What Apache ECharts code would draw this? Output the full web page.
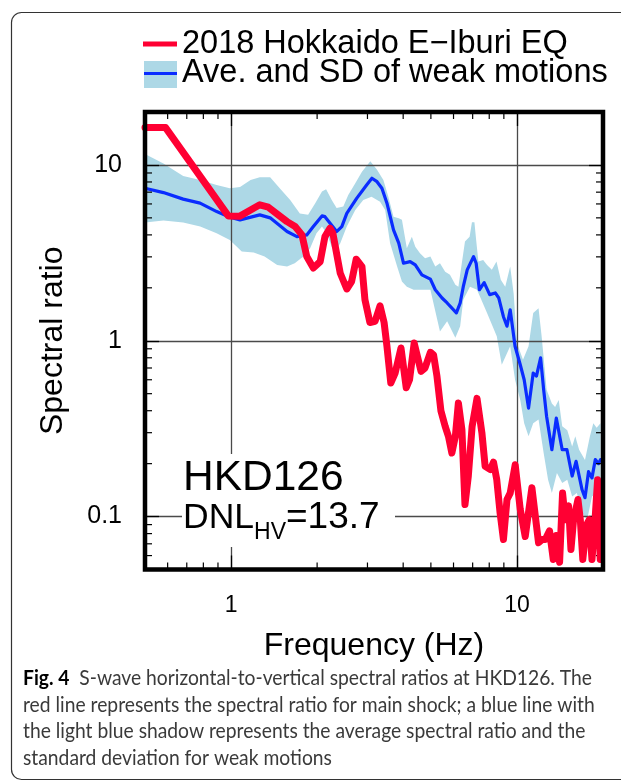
<!DOCTYPE html>
<html>
<head>
<meta charset="utf-8">
<title>HKD126 spectral ratios</title>
<script src="https://cdn.jsdelivr.net/npm/echarts@6/dist/echarts.min.js"></script>
<style>
  html, body { margin: 0; padding: 0; background: #fff; }
  #chart { width: 621px; height: 782px; }
</style>
</head>
<body>
<div id="chart"></div>
<script>
// ---- data -------------------------------------------------------------
// 2018 Hokkaido Eastern Iburi earthquake, main shock H/V spectral ratio
const mainFreq  = [0.5, 0.59, 0.978, 1.07, 1.26, 1.35, 1.57, 1.675, 1.77, 1.84, 1.94, 2.05, 2.13, 2.22, 2.27, 2.41, 2.54, 2.64, 2.74, 2.87, 2.94, 3.06, 3.19, 3.32, 3.43, 3.51, 3.62, 3.75, 3.93, 4.1, 4.21, 4.37, 4.49, 4.62, 4.77, 4.98, 5.11, 5.25, 5.42, 5.61, 5.76, 5.92, 6.09, 6.24, 6.42, 6.58, 6.76, 6.97, 7.25, 7.54, 7.74, 8.07, 8.28, 8.5, 8.73, 8.97, 9.23, 9.47, 9.86, 10.27, 10.69, 11.28, 11.9, 12.24, 12.56, 13.0, 13.4, 13.73, 14.1, 14.44, 14.76, 15.16, 15.45, 15.78, 16.35, 16.66, 17.0, 17.48, 17.91, 18.3, 18.7, 19.15, 19.56];
const mainRatio = [16.3, 16.3, 5.13, 5.1, 5.93, 5.75, 4.76, 4.46, 4.0, 3.01, 2.59, 2.82, 3.91, 4.37, 4.09, 2.42, 1.97, 2.17, 2.91, 2.64, 1.71, 1.27, 1.29, 1.58, 1.27, 0.93, 0.575, 0.655, 0.91, 0.54, 0.6, 0.97, 0.81, 0.67, 0.70, 0.86, 0.83, 0.63, 0.40, 0.326, 0.286, 0.23, 0.286, 0.443, 0.312, 0.117, 0.17, 0.326, 0.47, 0.30, 0.193, 0.185, 0.204, 0.162, 0.105, 0.074, 0.125, 0.136, 0.197, 0.11, 0.077, 0.146, 0.071, 0.074, 0.074, 0.083, 0.057, 0.078, 0.055, 0.136, 0.096, 0.115, 0.065, 0.096, 0.125, 0.096, 0.057, 0.089, 0.096, 0.057, 0.089, 0.162, 0.057];

// weak motions: average H/V spectral ratio
const weakFreq = [0.5, 0.58, 0.68, 0.779, 0.891, 0.978, 1.075, 1.26, 1.37, 1.57, 1.70, 1.84, 1.94, 2.08, 2.13, 2.34, 2.44, 2.54, 2.75, 2.98, 3.11, 3.24, 3.37, 3.51, 3.7, 3.86, 4.01, 4.23, 4.41, 4.65, 4.98, 5.18, 5.47, 5.7, 6.14, 6.33, 6.49, 6.7, 7.05, 7.2, 7.39, 7.68, 8.03, 8.4, 8.64, 8.97, 9.23, 9.47, 9.85, 10.27, 10.6, 10.98, 11.4, 11.7, 12.1, 12.4, 12.7, 13.25, 13.73, 14.4, 14.96, 15.6, 16.1, 16.9, 17.3, 17.8, 18.3, 18.8, 19.3, 19.6];
const weakAve  = [7.37, 6.96, 6.39, 6.06, 5.43, 5.08, 4.87, 5.2, 5.0, 4.18, 3.91, 4.0, 4.46, 5.13, 5.08, 4.18, 4.46, 5.3, 6.45, 7.69, 8.4, 8.03, 7.37, 6.06, 4.27, 3.59, 2.76, 2.82, 2.7, 2.37, 2.24, 1.95, 1.75, 1.64, 1.44, 1.64, 2.03, 2.53, 3.01, 2.76, 1.95, 2.14, 1.83, 1.87, 1.75, 1.37, 1.21, 1.5, 0.93, 0.73, 0.60, 0.414, 0.655, 0.63, 0.80, 0.527, 0.371, 0.24, 0.363, 0.24, 0.24, 0.17, 0.206, 0.142, 0.128, 0.18, 0.166, 0.211, 0.2, 0.211];

// weak motions: average + SD
const sdUpperFreq  = [0.5, 0.58, 0.68, 0.78, 0.89, 0.99, 1.075, 1.17, 1.26, 1.37, 1.48, 1.61, 1.74, 1.86, 1.97, 2.08, 2.15, 2.25, 2.34, 2.47, 2.57, 2.72, 2.87, 3.07, 3.24, 3.41, 3.55, 3.7, 3.86, 3.96, 4.12, 4.29, 4.41, 4.58, 4.77, 4.98, 5.18, 5.38, 5.61, 5.83, 6.09, 6.24, 6.58, 6.83, 6.96, 7.1, 7.2, 7.33, 7.62, 7.86, 8.17, 8.48, 8.78, 9.1, 9.47, 9.74, 10.0, 10.5, 10.98, 11.4, 11.9, 12.2, 12.7, 13.25, 13.6, 14.0, 14.4, 15.0, 15.6, 16.0, 16.5, 17.3, 18.0, 18.5, 19.0, 19.6];
const sdUpperRatio = [11.55, 10.2, 8.66, 8.2, 7.69, 7.37, 7.5, 8.2, 8.5, 8.5, 7.37, 6.32, 5.3, 5.2, 6.06, 7.06, 7.27, 6.32, 5.68, 5.8, 6.75, 7.87, 9.15, 10.5, 9.4, 8.2, 6.6, 5.08, 4.97, 4.87, 3.36, 3.91, 3.43, 3.15, 2.95, 3.01, 2.64, 2.76, 2.47, 2.37, 2.08, 2.03, 3.67, 3.91, 4.72, 4.72, 3.74, 2.82, 2.88, 2.7, 2.53, 2.82, 2.22, 2.03, 2.64, 1.85, 0.97, 0.78, 0.93, 1.44, 1.53, 1.06, 0.527, 0.44, 0.42, 0.46, 0.326, 0.31, 0.25, 0.286, 0.24, 0.21, 0.286, 0.34, 0.32, 0.34];

// weak motions: average - SD
const sdLowerFreq  = [0.5, 0.58, 0.68, 0.78, 0.89, 0.99, 1.09, 1.2, 1.31, 1.45, 1.57, 1.67, 1.79, 1.89, 1.99, 2.08, 2.16, 2.25, 2.31, 2.41, 2.54, 2.72, 2.9, 3.1, 3.32, 3.46, 3.6, 3.81, 3.96, 4.12, 4.35, 4.98, 5.38, 5.7, 6.09, 6.33, 6.49, 6.85, 7.25, 7.86, 8.5, 8.85, 9.47, 9.85, 10.27, 10.6, 10.98, 11.4, 11.9, 12.4, 12.85, 13.25, 13.8, 14.4, 15.0, 15.6, 16.2, 16.9, 17.6, 18.3, 19.0, 19.6];
const sdLowerRatio = [4.7, 4.83, 4.7, 4.46, 4.09, 3.74, 3.22, 3.18, 3.01, 2.7, 2.64, 2.76, 3.01, 3.36, 4.09, 4.46, 4.09, 3.43, 3.22, 3.59, 4.46, 5.55, 6.32, 6.6, 6.17, 5.55, 3.59, 2.64, 2.17, 2.03, 1.95, 1.95, 1.13, 1.29, 1.04, 1.21, 1.71, 2.03, 1.95, 1.44, 1.06, 0.73, 0.93, 0.60, 0.46, 0.34, 0.286, 0.34, 0.356, 0.23, 0.162, 0.136, 0.177, 0.155, 0.162, 0.13, 0.136, 0.105, 0.096, 0.13, 0.136, 0.15];

// axis ranges and minor tick positions (log decades)
const X_RANGE = [0.5, 20];
const Y_RANGE = [0.05, 20];
const minorTicksX = [0.6, 0.7, 0.8, 0.9, 2, 3, 4, 5, 6, 7, 8, 9];
const minorTicksY = [0.06, 0.07, 0.08, 0.09, 0.2, 0.3, 0.4, 0.5, 0.6, 0.7, 0.8, 0.9, 2, 3, 4, 5, 6, 7, 8, 9];

// ---- styling ----------------------------------------------------------
const FONT = "'Liberation Sans', Arial, Helvetica, sans-serif";
const CAPTION_FONT = "Lato, 'Open Sans', sans-serif";
const RED = '#ff0033';
const BLUE = '#0a2cff';
const SHADE = '#add8e6';
const GRID_LINE = '#4a4a4a';
const MINOR_TICK = 7;

const measureCtx = document.createElement('canvas').getContext('2d');
function textWidth(font, s) { measureCtx.font = font; return measureCtx.measureText(s).width; }

const pairs = (xs, ys) => xs.map((x, i) => [x, ys[i]]);
const bandPoints = pairs(sdUpperFreq, sdUpperRatio).concat(pairs(sdLowerFreq, sdLowerRatio).reverse());

function minorTickSeries(values, horizontal) {
  return {
    type: 'custom',
    coordinateSystem: 'cartesian2d',
    silent: true,
    z: 4,
    data: values.map(v => horizontal ? [v, Y_RANGE[0]] : [X_RANGE[0], v]),
    renderItem(params, api) {
      const style = { stroke: '#000', lineWidth: 1.2 };
      if (horizontal) {
        const v = api.value(0);
        const a = api.coord([v, Y_RANGE[0]]);
        const b = api.coord([v, Y_RANGE[1]]);
        return { type: 'group', children: [
          { type: 'line', shape: { x1: a[0], y1: a[1], x2: a[0], y2: a[1] - MINOR_TICK }, style },
          { type: 'line', shape: { x1: b[0], y1: b[1], x2: b[0], y2: b[1] + MINOR_TICK }, style }
        ]};
      }
      const v = api.value(1);
      const a = api.coord([X_RANGE[0], v]);
      const b = api.coord([X_RANGE[1], v]);
      return { type: 'group', children: [
        { type: 'line', shape: { x1: a[0], y1: a[1], x2: a[0] + MINOR_TICK, y2: a[1] }, style },
        { type: 'line', shape: { x1: b[0], y1: b[1], x2: b[0] - MINOR_TICK, y2: b[1] }, style }
      ]};
    }
  };
}

// station annotation pieces laid out left to right
const dnlFont = '35.5px ' + FONT, subFont = '23px ' + FONT, eqFont = '37px ' + FONT;
const dnlX = 183;
const subX = dnlX + textWidth(dnlFont, 'DNL');
const eqX = subX + textWidth(subFont, 'HV');

// caption scaled horizontally to the column width
const capBold = 'bold 21px ' + CAPTION_FONT, capReg = '21px ' + CAPTION_FONT;
const capLine1W = textWidth(capBold, 'Fig. 4') + textWidth(capReg, '  S-wave horizontal-to-vertical spectral ratios at HKD126. The');
const capScale = 569 / capLine1W;
const captionLines = [
  '{b|Fig. 4}  S-wave horizontal-to-vertical spectral ratios at HKD126. The',
  'red line represents the spectral ratio for main shock; a blue line with',
  'the light blue shadow represents the average spectral ratio and the',
  'standard deviation for weak motions'
];
const captionBaseline = [686.7, 713.2, 739.7, 766.2];

const axisBase = {
  type: 'log',
  logBase: 10,
  axisLine: { show: false },
  axisTick: { show: true, inside: true, length: 14, lineStyle: { color: '#000', width: 1.3 } }
};

const option = {
  animation: false,
  backgroundColor: '#fff',
  grid: {
    left: 145, top: 112, right: 18, bottom: 212.5,
    show: true, z: 10,
    backgroundColor: 'transparent',
    borderColor: '#000', borderWidth: 4.5
  },
  xAxis: [
    Object.assign({}, axisBase, {
      position: 'bottom', min: X_RANGE[0], max: X_RANGE[1],
      axisLabel: { fontFamily: FONT, fontSize: 23, color: '#000', margin: 25, showMinLabel: false, showMaxLabel: false },
      splitLine: { show: true, lineStyle: { color: GRID_LINE, width: 1.3 } },
      name: 'Frequency (Hz)', nameLocation: 'middle', nameGap: 61,
      nameTextStyle: { fontFamily: FONT, fontSize: 32, color: '#000' }
    }),
    Object.assign({}, axisBase, {
      position: 'top', min: X_RANGE[0], max: X_RANGE[1],
      axisLabel: { show: false }, splitLine: { show: false }
    })
  ],
  yAxis: [
    Object.assign({}, axisBase, {
      position: 'left', min: Y_RANGE[0], max: Y_RANGE[1],
      axisLabel: { fontFamily: FONT, fontSize: 25, color: '#000', margin: 23, showMinLabel: false, showMaxLabel: false },
      splitLine: { show: true, lineStyle: { color: GRID_LINE, width: 1.3 } },
      name: 'Spectral ratio', nameLocation: 'middle', nameGap: 76, nameRotate: 90,
      nameTextStyle: { fontFamily: FONT, fontSize: 32, color: '#000' }
    }),
    Object.assign({}, axisBase, {
      position: 'right', min: Y_RANGE[0], max: Y_RANGE[1],
      axisLabel: { show: false }, splitLine: { show: false }
    })
  ],
  series: [
    {
      name: 'Ave. and SD of weak motions (SD)',
      type: 'custom',
      coordinateSystem: 'cartesian2d',
      silent: true,
      z: -1,
      data: bandPoints,
      renderItem(params, api) {
        if (params.dataIndex !== 0) return null;
        return {
          type: 'polygon',
          shape: { points: bandPoints.map(p => api.coord(p)) },
          style: { fill: SHADE }
        };
      }
    },
    minorTickSeries(minorTicksX, true),
    minorTickSeries(minorTicksY, false),
    {
      name: 'Ave. and SD of weak motions',
      type: 'line', z: 3,
      data: pairs(weakFreq, weakAve),
      showSymbol: false, symbol: 'none',
      lineStyle: { color: BLUE, width: 3.2, join: 'round', cap: 'round' }
    },
    {
      name: '2018 Hokkaido E\u2212Iburi EQ',
      type: 'line', z: 4,
      data: pairs(mainFreq, mainRatio),
      showSymbol: false, symbol: 'none',
      lineStyle: { color: RED, width: 7, join: 'round', cap: 'round' }
    }
  ],
  graphic: [
    // panel outline
    { type: 'rect', silent: true, shape: { x: 11.5, y: 12.5, width: 700, height: 767, r: 10 },
      style: { fill: 'none', stroke: '#333', lineWidth: 1.2 } },
    // legend
    { type: 'line', silent: true, shape: { x1: 143, y1: 44, x2: 177, y2: 44 },
      style: { stroke: RED, lineWidth: 5 } },
    { type: 'text', silent: true, x: 182, y: 55 - 11.3,
      style: { text: '2018 Hokkaido E\u2212Iburi EQ', font: '32.5px ' + FONT, fill: '#000', verticalAlign: 'middle' } },
    { type: 'rect', silent: true, shape: { x: 144, y: 61, width: 33, height: 27 },
      style: { fill: SHADE } },
    { type: 'line', silent: true, shape: { x1: 144, y1: 73.5, x2: 177, y2: 73.5 },
      style: { stroke: BLUE, lineWidth: 3 } },
    { type: 'text', silent: true, x: 182, y: 84 - 11.3,
      style: { text: 'Ave. and SD of weak motions', font: '32.5px ' + FONT, fill: '#000', verticalAlign: 'middle' } },
    // station annotation with its white backing
    { type: 'rect', silent: true, z: 20, shape: { x: 182, y: 454, width: 213, height: 93 },
      style: { fill: '#fff' } },
    { type: 'text', silent: true, z: 21, x: 183, y: 493.3 - 14.7,
      style: { text: 'HKD126', font: '42.5px ' + FONT, fill: '#000', verticalAlign: 'middle' } },
    { type: 'text', silent: true, z: 21, x: dnlX, y: 531 - 12.3,
      style: { text: 'DNL', font: dnlFont, fill: '#000', verticalAlign: 'middle' } },
    { type: 'text', silent: true, z: 21, x: subX, y: 541 - 8,
      style: { text: 'HV', font: subFont, fill: '#000', verticalAlign: 'middle' } },
    { type: 'text', silent: true, z: 21, x: eqX, y: 531 - 12.8,
      style: { text: '=13.7', font: eqFont, fill: '#000', verticalAlign: 'middle' } }
  ].concat(captionLines.map((line, i) => ({
    type: 'text', silent: true, x: 23, y: captionBaseline[i] - 8.1, scaleX: capScale,
    style: {
      text: line, font: capReg, fill: '#3a3a3a', verticalAlign: 'middle',
      rich: { b: { fontFamily: CAPTION_FONT, fontSize: 21, fontWeight: 'bold', fill: '#000' } }
    }
  })))
};

const chart = echarts.init(document.getElementById('chart'), null, { renderer: 'canvas' });
chart.setOption(option);
</script>
</body>
</html>
